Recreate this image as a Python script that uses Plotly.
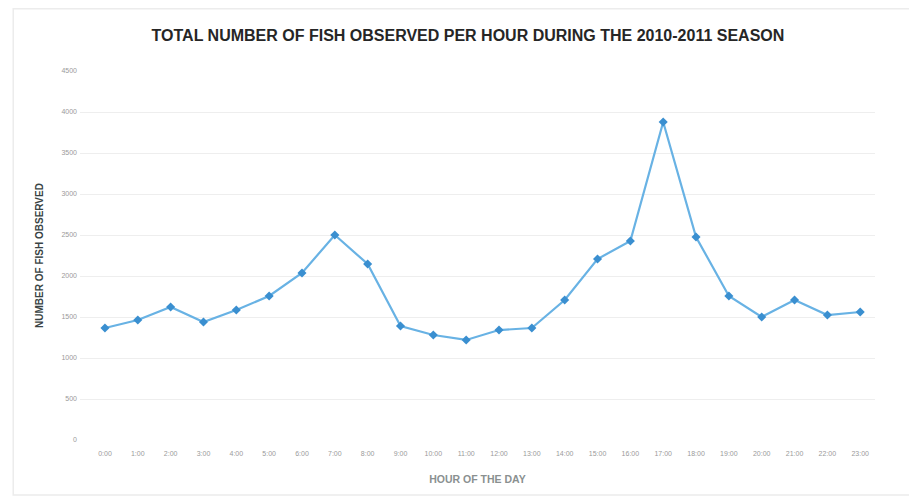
import plotly.graph_objects as go

hours = [f"{h}:00" for h in range(24)]
fish_counts = [1366, 1463, 1622, 1439, 1585, 1756, 2037, 2500, 2146, 1390, 1280, 1220,
               1341, 1366, 1707, 2207, 2427, 3878, 2476, 1756, 1500, 1707, 1524, 1561]
y_ticks = [0, 500, 1000, 1500, 2000, 2500, 3000, 3500, 4000, 4500]

fig = go.Figure()
fig.add_trace(go.Scatter(
    x=hours, y=fish_counts, mode="lines+markers",
    line=dict(color="#68b2e4", width=2.2),
    marker=dict(symbol="diamond", size=7, color="#3a8fd0"),
    showlegend=False,
))

fig.update_layout(
    width=909, height=490,
    margin=dict(l=72, r=42, t=63, b=58, autoexpand=False),
    paper_bgcolor="white", plot_bgcolor="white",
    title=dict(text="<b>TOTAL NUMBER OF FISH OBSERVED PER HOUR DURING THE 2010-2011 SEASON</b>",
               x=0.506, xanchor="center", y=0.945, yanchor="middle",
               font=dict(family="Liberation Sans, Arial", size=16, color="#262626")),
    font=dict(family="Liberation Sans, Arial", color="#9a9a9a"),
    xaxis=dict(
        type="category", range=[-0.76, 23.45], showgrid=False, showline=False, ticks="",
        tickfont=dict(size=7, color="#9a9a9a"), ticklabelstandoff=8, automargin=False,
        title=dict(text="<b>HOUR OF THE DAY</b>", font=dict(size=10.5, color="#8a9090"), standoff=19),
    ),
    yaxis=dict(
        range=[0, 4500], tickvals=y_ticks, ticktext=[str(v) for v in y_ticks],
        showgrid=True, gridcolor="#eeeeee", gridwidth=1, zeroline=False, showline=False,
        tickfont=dict(size=7, color="#9a9a9a"), ticklen=0, ticklabelstandoff=2, automargin=False,
        title=dict(text="<b>NUMBER OF FISH OBSERVED</b>", font=dict(size=10, color="#3a4445"), standoff=15),
    ),
    shapes=[dict(type="rect", xref="paper", yref="paper", x0=-0.084, x1=1.044, y0=-0.149, y1=1.169,
                 line=dict(color="#ececec", width=1.5))],
)

fig.write_html("out.html")
